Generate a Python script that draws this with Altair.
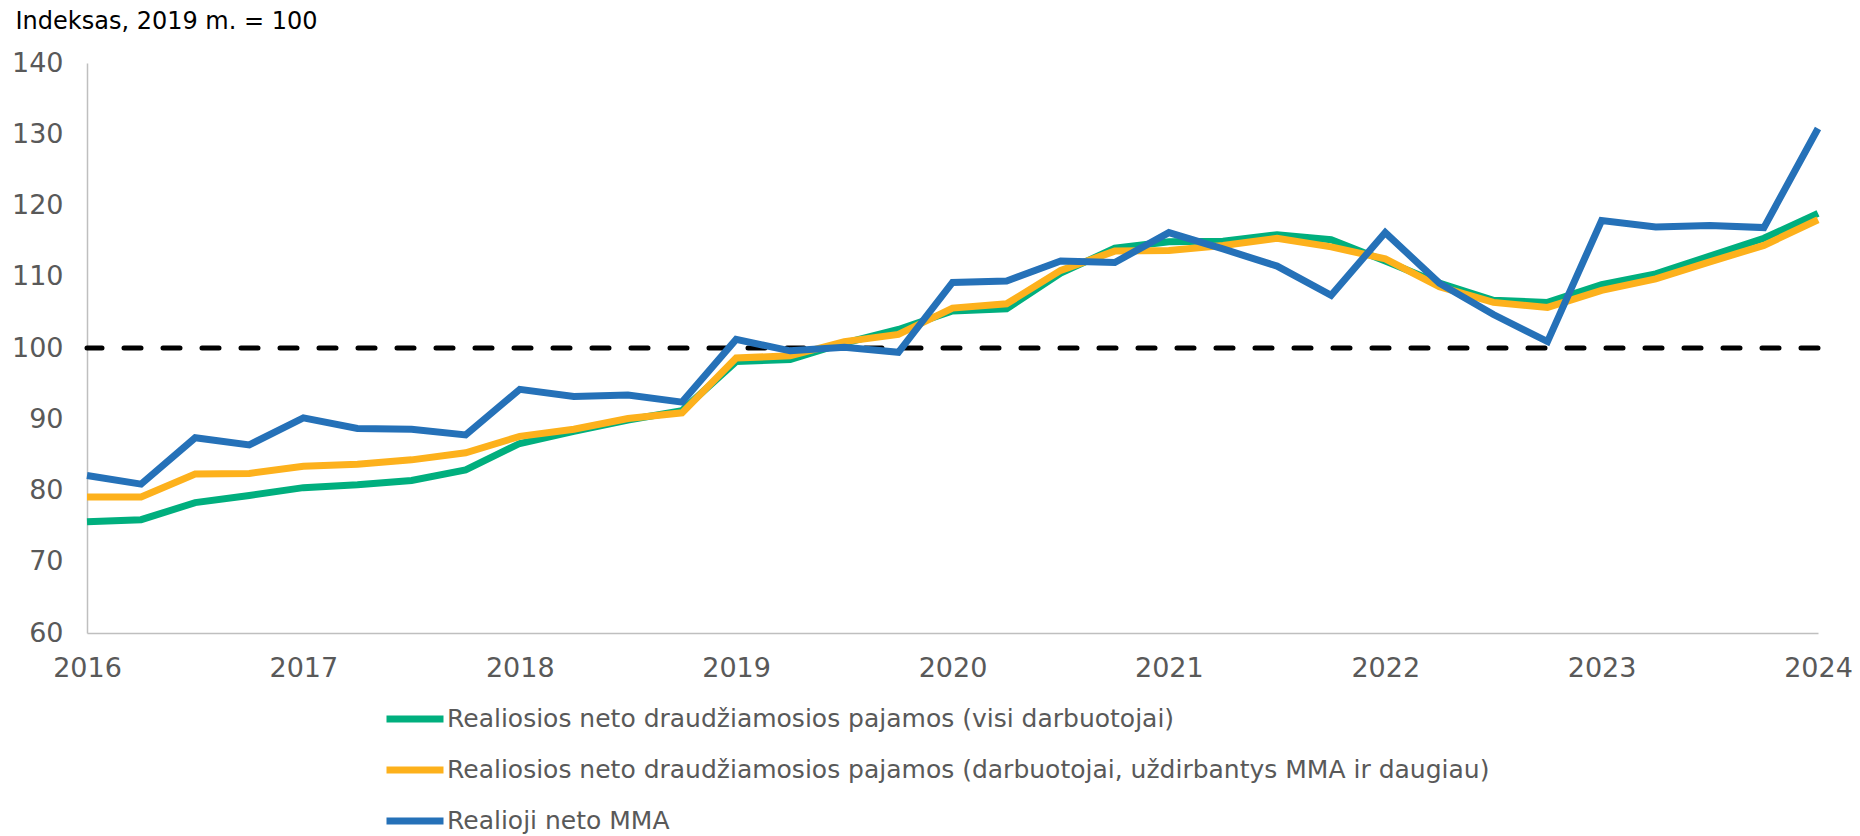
import altair as alt
import pandas as pd

quarters = [2016 + i * 0.25 for i in range(33)]

series_names = [
    "Realiosios neto draudžiamosios pajamos (visi darbuotojai)",
    "Realiosios neto draudžiamosios pajamos (darbuotojai, uždirbantys MMA ir daugiau)",
    "Realioji neto MMA",
]

green_vals = [75.6, 75.9, 78.3, 79.3, 80.4, 80.8, 81.4, 82.9, 86.6, 88.3, 89.9, 91.2,
              98.1, 98.4, 100.7, 102.6, 105.2, 105.5, 110.5, 114.0, 114.9, 115.0, 115.9, 115.2,
              112.2, 109.1, 106.7, 106.4, 108.9, 110.4, 112.9, 115.4, 118.9]
orange_vals = [79.1, 79.1, 82.3, 82.4, 83.4, 83.7, 84.3, 85.3, 87.6, 88.6, 90.1, 90.9,
               98.6, 98.9, 100.9, 101.9, 105.6, 106.2, 110.9, 113.6, 113.7, 114.4, 115.4, 114.2,
               112.5, 108.6, 106.4, 105.7, 108.1, 109.7, 112.1, 114.4, 118.0]
blue_vals = [82.1, 80.9, 87.4, 86.4, 90.2, 88.7, 88.6, 87.8, 94.2, 93.2, 93.4, 92.4,
             101.2, 99.6, 100.1, 99.4, 109.2, 109.4, 112.2, 112.0, 116.2, 113.9, 111.5, 107.4,
             116.2, 109.1, 104.7, 100.9, 117.9, 117.0, 117.2, 116.9, 130.8]

colors = ["#00AF7E", "#FDB11C", "#2571B8"]
reference_value = [100]

rows = []
for k, vals in enumerate([green_vals, orange_vals, blue_vals]):
    for q, v in zip(quarters, vals):
        rows.append({"t": q, "v": v, "s": series_names[k], "o": k})
df = pd.DataFrame(rows)

W, H = 1731, 570

x_enc = alt.X("t:Q", scale=alt.Scale(domain=[2016, 2024], nice=False, zero=False),
              axis=alt.Axis(values=list(range(2016, 2025)), format="d", title=None,
                            grid=False, ticks=False, domainColor="#BFBFBF", domainWidth=1.5,
                            labelFontSize=27, labelColor="#595959", labelFont="DejaVu Sans",
                            labelPadding=22, labelFlush=False))
y_enc = alt.Y("v:Q", scale=alt.Scale(domain=[60, 140], nice=False, zero=False),
              axis=alt.Axis(values=list(range(60, 141, 10)), grid=False, ticks=False,
                            domainColor="#BFBFBF", domainWidth=1.5,
                            labelFontSize=27, labelColor="#595959", labelFont="DejaVu Sans",
                            labelPadding=24,
                            title="Indeksas, 2019 m. = 100", titleAngle=0, titleX=-72, titleY=-42,
                            titleAlign="left", titleBaseline="middle", titleFontSize=24,
                            titleFontWeight="normal", titleColor="#000000", titleFont="DejaVu Sans"))

lines = alt.Chart(df).mark_line(strokeWidth=7, strokeCap="butt", strokeJoin="miter").encode(
    x=x_enc,
    y=y_enc,
    color=alt.Color("s:N", scale=alt.Scale(domain=series_names, range=colors),
                    sort=series_names,
                    legend=alt.Legend(title=None, orient="none", legendX=296, legendY=624,
                                      direction="vertical", symbolType="stroke",
                                      symbolStrokeWidth=7, symbolSize=3249,
                                      labelFontSize=25, labelColor="#595959",
                                      labelFont="DejaVu Sans", labelOffset=0,
                                      rowPadding=5, labelLimit=2000)),
    order=alt.Order("o:Q"),
    detail="s:N",
)

ref = alt.Chart(pd.DataFrame({"v": reference_value})).mark_rule(
    color="black", strokeWidth=5, strokeDash=[17, 22], strokeCap="round"
).encode(y=alt.Y("v:Q"))

chart = alt.layer(ref, lines).properties(
    width=W, height=H,
    autosize=alt.AutoSizeParams(type="none"),
    padding={"left": 79, "top": 55, "right": 34, "bottom": 203},
    background="white",
).configure_view(stroke=None)

chart.save("out.html", embed_options={"renderer": "svg", "actions": False})
